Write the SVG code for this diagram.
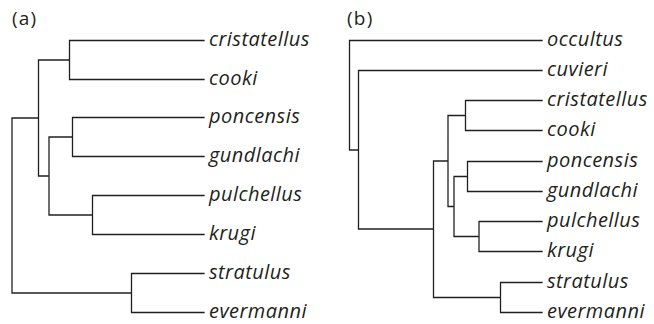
<svg xmlns="http://www.w3.org/2000/svg" width="654" height="324" viewBox="0 0 654 324">
<style>
.br{fill:none;stroke:#231f20;stroke-width:1.3;stroke-linecap:square}
.tx{font-family:"Open Sans","Noto Sans",sans-serif;font-style:italic;font-size:20px;letter-spacing:0.45px;fill:#231f20}
.pl{font-family:"Open Sans","Noto Sans",sans-serif;font-size:19px;letter-spacing:1.2px;fill:#231f20}
</style>
<rect width="654" height="324" fill="#fff"/>
<text id="label-a" class="pl" x="12" y="25">(a)</text>
<text id="label-b" class="pl" x="347" y="25">(b)</text>
<g id="connectors">
<path class="br" d="M69.5,40.5H204 M69.5,79.5H204 M69.5,40.5V79.5 M38.5,60H69.5
M72.5,117.5H204 M72.5,156.5H204 M72.5,117.5V156.5 M49,137H72.5
M92.5,195.5H204 M92.5,234.5H204 M92.5,195.5V234.5 M49,215H92.5
M49,137V215 M38.5,176H49 M38.5,60V176 M12,118H38.5
M131.5,273.5H204 M131.5,312.5H204 M131.5,273.5V312.5 M12,293H131.5 M12,118V293"/>
<path class="br" d="M349.5,40.5H542 M358.5,70.5H542 M349.5,40.5V150 M349.5,150H358.5 M358.5,70.5V229 M358.5,229H433.5
M465.5,100.5H542 M465.5,130.5H542 M465.5,100.5V130.5 M448,115.5H465.5
M467.5,161.5H542 M467.5,191.5H542 M467.5,161.5V191.5 M454,176.5H467.5
M479,221.5H542 M479,251.5H542 M479,221.5V251.5 M454,236.5H479
M454,176.5V236.5 M448,206.5H454 M448,115.5V206.5 M433.5,161H448
M500.5,282.5H542 M500.5,312.5H542 M500.5,282.5V312.5 M433.5,297.5H500.5 M433.5,161V297.5"/>
</g>
<g id="tree-a">
<g id="a-cristatellus"><text class="tx" x="209" y="46">cristatellus</text></g>
<g id="a-cooki"><text class="tx" x="209" y="85">cooki</text></g>
<g id="a-poncensis"><text class="tx" x="209" y="123">poncensis</text></g>
<g id="a-gundlachi"><text class="tx" x="209" y="162">gundlachi</text></g>
<g id="a-pulchellus"><text class="tx" x="209" y="201">pulchellus</text></g>
<g id="a-krugi"><text class="tx" x="209" y="240">krugi</text></g>
<g id="a-stratulus"><text class="tx" x="209" y="279">stratulus</text></g>
<g id="a-evermanni"><text class="tx" x="209" y="318">evermanni</text></g>
</g>
<g id="tree-b">
<g id="b-occultus"><text class="tx" x="547" y="46">occultus</text></g>
<g id="b-cuvieri"><text class="tx" x="547" y="76">cuvieri</text></g>
<g id="b-cristatellus"><text class="tx" x="547" y="106">cristatellus</text></g>
<g id="b-cooki"><text class="tx" x="547" y="136">cooki</text></g>
<g id="b-poncensis"><text class="tx" x="547" y="167">poncensis</text></g>
<g id="b-gundlachi"><text class="tx" x="547" y="197">gundlachi</text></g>
<g id="b-pulchellus"><text class="tx" x="547" y="227">pulchellus</text></g>
<g id="b-krugi"><text class="tx" x="547" y="257">krugi</text></g>
<g id="b-stratulus"><text class="tx" x="547" y="288">stratulus</text></g>
<g id="b-evermanni"><text class="tx" x="547" y="318">evermanni</text></g>
</g>
</svg>
